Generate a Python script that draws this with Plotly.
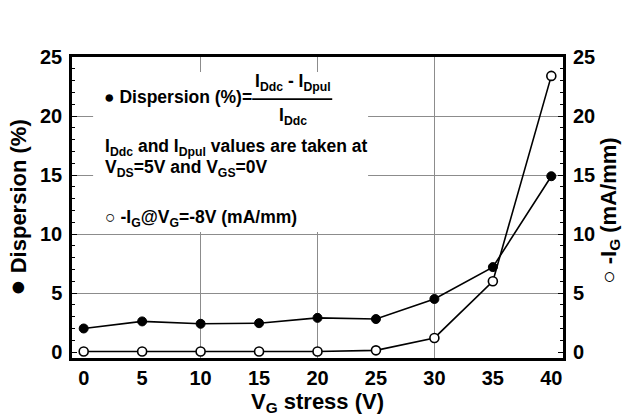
import plotly.graph_objects as go

# Gate-stress sweep: current-collapse dispersion and gate leakage
stress_v = [0, 5, 10, 15, 20, 25, 30, 35, 40]
dispersion_pct = [2.0, 2.6, 2.4, 2.45, 2.9, 2.8, 4.5, 7.2, 14.9]
ig_ma_mm = [0.05, 0.05, 0.05, 0.05, 0.05, 0.15, 1.2, 6.0, 23.4]

x_tick_vals = [0, 5, 10, 15, 20, 25, 30, 35, 40]
y_tick_vals = [0, 5, 10, 15, 20, 25]
x_grid_vals = [10, 20, 30]
y_grid_vals = [5, 10, 15, 20]

X_RANGE = [-1, 41]
Y_RANGE = [-0.5, 25]

FONT = "Liberation Sans, Arial, DejaVu Sans, sans-serif"
tick_font = dict(family=FONT, size=20, color="black", weight="bold")
title_font = dict(family=FONT, size=22, color="black", weight="bold")
note_font = dict(family=FONT, size=17.5, color="black", weight="bold")

fig = go.Figure()

# empty trace that brings the grid-only overlay axes into the figure
fig.add_trace(go.Scatter(x=[], y=[], xaxis="x2", yaxis="y3",
                         showlegend=False, hoverinfo="skip"))

fig.add_trace(go.Scatter(
    x=stress_v, y=dispersion_pct, mode="lines+markers",
    line=dict(color="black", width=1.6),
    marker=dict(symbol="circle", size=9, color="black",
                line=dict(color="black", width=1)),
    xaxis="x", yaxis="y", showlegend=False,
))
fig.add_trace(go.Scatter(
    x=stress_v, y=ig_ma_mm, mode="lines+markers",
    line=dict(color="black", width=1.6),
    marker=dict(symbol="circle", size=9, color="white",
                line=dict(color="black", width=1.6)),
    xaxis="x", yaxis="y2", showlegend=False,
))

frame = dict(showline=True, linecolor="black", linewidth=2.5, mirror=True)

fig.update_layout(
    width=623, height=418,
    margin=dict(l=72, r=60, t=57, b=60, autoexpand=False),
    paper_bgcolor="white", plot_bgcolor="white",
    xaxis=dict(
        range=X_RANGE, tickvals=x_tick_vals, ticks="", showgrid=False,
        zeroline=False, tickfont=tick_font, automargin=False,
        title=dict(text="V<sub>G</sub> stress (V)", font=title_font, standoff=4),
        **frame,
    ),
    xaxis2=dict(
        range=X_RANGE, overlaying="x", anchor="y3", tickvals=x_grid_vals,
        showgrid=True, gridcolor="#8c8c8c", gridwidth=1, showticklabels=False,
        ticks="", zeroline=False, showline=False,
    ),
    yaxis=dict(
        range=Y_RANGE, tickvals=y_tick_vals, ticks="inside", ticklen=5,
        tickcolor="black", showgrid=False, zeroline=False,
        tickfont=tick_font, automargin=False, ticklabelstandoff=3,
        minor=dict(dtick=1, tick0=0, ticks="inside", ticklen=3, tickcolor="black"),
        title=dict(text="<span style='font-size:27px'>●</span> Dispersion (%)",
                   font=title_font, standoff=8),
        **frame,
    ),
    yaxis2=dict(
        range=Y_RANGE, overlaying="y", side="right", anchor="x",
        tickvals=y_tick_vals, ticks="inside", ticklen=5, tickcolor="black",
        showgrid=False, zeroline=False, tickfont=tick_font, automargin=False,
        ticklabelstandoff=9,
        minor=dict(dtick=1, tick0=0, ticks="inside", ticklen=3, tickcolor="black"),
    ),
    yaxis3=dict(
        range=Y_RANGE, overlaying="y", anchor="x2", tickvals=y_grid_vals,
        showgrid=True, gridcolor="#8c8c8c", gridwidth=1, showticklabels=False,
        ticks="", zeroline=False, showline=False,
    ),
)

# right-axis title, set close to the page edge
fig.add_annotation(x=1.094, y=0.49, xref="paper", yref="paper",
                   text="○ -I<sub>G</sub> (mA/mm)",
                   textangle=-90, showarrow=False, xanchor="center",
                   yanchor="middle", font=title_font)

# white panel behind the formula text
fig.add_shape(type="rect", xref="paper", yref="paper",
              x0=0.043, x1=0.603, y0=0.419, y1=0.950,
              fillcolor="white", line=dict(width=0), layer="above")
# fraction bar
fig.add_shape(type="line", xref="paper", yref="paper",
              x0=0.367, x1=0.530, y0=0.860, y1=0.860,
              line=dict(color="black", width=1.6), layer="above")

notes = [
    (0.061, 0.867, "left", "● Dispersion (%)="),
    (0.450, 0.914, "center", "I<sub>Ddc</sub> - I<sub>Dpul</sub>"),
    (0.450, 0.801, "center", "I<sub>Ddc</sub>"),
    (0.063, 0.700, "left", "I<sub>Ddc</sub> and I<sub>Dpul</sub> values are taken at"),
    (0.063, 0.629, "left", "V<sub>DS</sub>=5V and V<sub>GS</sub>=0V"),
    (0.063, 0.465, "left", "○ -I<sub>G</sub>@V<sub>G</sub>=-8V (mA/mm)"),
]
for x, y, anchor, text in notes:
    fig.add_annotation(x=x, y=y, xref="paper", yref="paper", text=text,
                       showarrow=False, xanchor=anchor, yanchor="middle",
                       font=note_font)

fig.write_html("out.html")
